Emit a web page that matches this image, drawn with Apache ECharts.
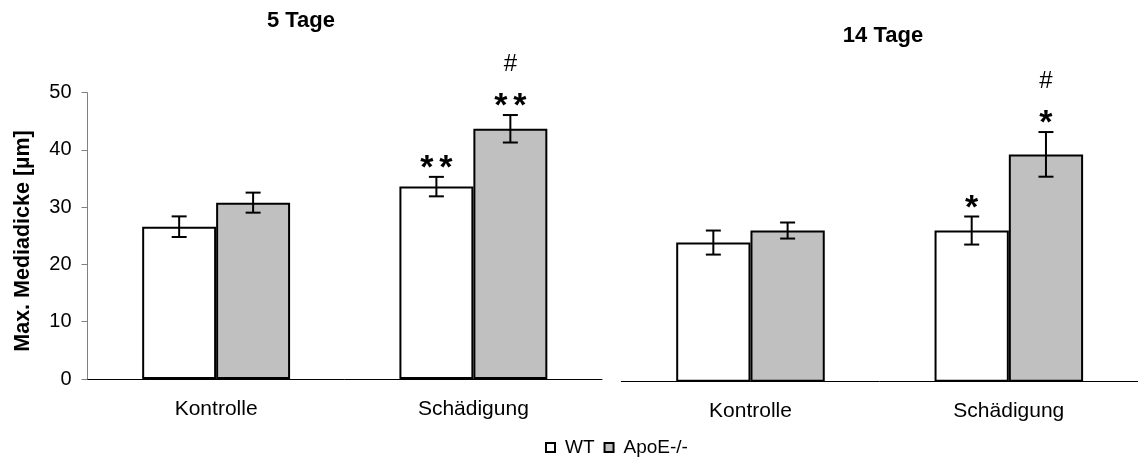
<!DOCTYPE html>
<html>
<head>
<meta charset="utf-8">
<title>Max. Mediadicke</title>
<script src="https://cdn.jsdelivr.net/npm/echarts@6/dist/echarts.min.js"></script>
<style>
  html, body { margin: 0; padding: 0; background: #fff; }
  #chart { width: 1138px; height: 459px; }
</style>
</head>
<body>
<div id="chart"></div>
<script>
// Groups on the x axis
const categories = ['Kontrolle', 'Schädigung'];
const yTicks = [0, 10, 20, 30, 40, 50];

// 5 Tage: means and error (±) per group
const wt5 = [26.6, 33.6];
const wt5Err = [1.8, 1.7];
const apo5 = [30.8, 43.7];
const apo5Err = [1.75, 2.4];

// 14 Tage
const wt14 = [24.3, 26.4];
const wt14Err = [2.1, 2.45];
const apo14 = [26.4, 39.7];
const apo14Err = [1.4, 3.9];

// Significance marks above the error bars
const wt5Marks = ['', '**'];
const apo5Marks = ['', '**'];
const apo5Hash = ['', '#'];
const wt14Marks = ['', '*'];
const apo14Marks = ['', '*'];
const apo14Hash = ['', '#'];

const FONT = '"Liberation Sans", Arial, sans-serif';
const GAP = 0.425;
const STAR_STEP = 19;

function errData(means, errs) {
  return means.map((m, i) => [i, m, errs[i]]);
}

function centeredText(x, y, text, font) {
  return {
    type: 'text', x: x, y: y,
    style: { text: text, font: font, fill: '#000',
             textAlign: 'center', textVerticalAlign: 'middle',
             align: 'center', verticalAlign: 'middle' }
  };
}

// Error bars with caps, plus the significance labels
function errorBars(side, marks, hashes) {
  return function (params, api) {
    const i = api.value(0);
    const mean = api.value(1);
    const err = api.value(2);
    const band = api.size([1, 0])[0];
    const bw = band * (1 - GAP) / 2;
    const x = api.coord([i, 0])[0] + side * bw / 2;
    const yTop = api.coord([i, mean + err])[1];
    const yBot = api.coord([i, mean - err])[1];
    const cap = 7.5;
    const ls = { stroke: '#000', lineWidth: 2 };
    const children = [
      { type: 'line', shape: { x1: x, y1: yTop, x2: x, y2: yBot }, style: ls },
      { type: 'line', shape: { x1: x - cap, y1: yTop, x2: x + cap, y2: yTop }, style: ls },
      { type: 'line', shape: { x1: x - cap, y1: yBot, x2: x + cap, y2: yBot }, style: ls }
    ];
    const m = marks[params.dataIndex] || '';
    const chars = m.split('');
    chars.forEach((c, k) => {
      const cx = x + (k - (chars.length - 1) / 2) * STAR_STEP;
      children.push(centeredText(cx, yTop - 8, c, 'bold 34px ' + FONT));
    });
    const h = hashes ? hashes[params.dataIndex] : '';
    if (h) {
      children.push(centeredText(x, yTop - 50.5, h, '24px ' + FONT));
    }
    return { type: 'group', children: children };
  };
}

function catAxis(gridIndex, margin) {
  return {
    type: 'category', gridIndex: gridIndex, data: categories,
    axisLine: { lineStyle: { color: '#000', width: 1 } },
    axisTick: { show: false },
    axisLabel: { margin: margin, fontSize: 21, fontFamily: FONT, color: '#000' }
  };
}

function valAxis(gridIndex, visible) {
  return {
    type: 'value', gridIndex: gridIndex, min: yTicks[0], max: yTicks[yTicks.length - 1],
    interval: yTicks[1] - yTicks[0],
    show: visible,
    splitLine: { show: false },
    axisLine: { show: true, lineStyle: { color: '#808080', width: 1 } },
    axisTick: { show: true, length: 6, lineStyle: { color: '#808080' } },
    axisLabel: { margin: 16, fontSize: 20, fontFamily: FONT, color: '#000' }
  };
}

function barSeries(name, data, axisIdx, color) {
  return {
    name: name, type: 'bar', xAxisIndex: axisIdx, yAxisIndex: axisIdx,
    data: data, barGap: '0%', barCategoryGap: (GAP * 100) + '%',
    itemStyle: { color: color, borderColor: '#000', borderWidth: 2 },
    emphasis: { disabled: true }, silent: true
  };
}

function errSeries(name, means, errs, axisIdx, side, marks, hashes) {
  return {
    name: name, type: 'custom', xAxisIndex: axisIdx, yAxisIndex: axisIdx,
    data: errData(means, errs), renderItem: errorBars(side, marks, hashes),
    encode: { x: 0, y: 1 }, z: 5, silent: true
  };
}

const chart = echarts.init(document.getElementById('chart'));
chart.setOption({
  animation: false,
  backgroundColor: '#fff',
  grid: [
    { left: 87.5, top: 92.7, width: 514.5, height: 286.3 },
    { left: 621.3, top: 95.4, width: 528.4, height: 286.3 }
  ],
  xAxis: [catAxis(0, 19.5), catAxis(1, 18.8)],
  yAxis: [valAxis(0, true), valAxis(1, false)],
  legend: {
    data: ['WT', 'ApoE-/-'],
    left: 545, top: 438, padding: 0,
    itemWidth: 9, itemHeight: 9, itemGap: 9,
    icon: 'rect',
    itemStyle: { borderWidth: 2, borderColor: '#000' },
    textStyle: { fontSize: 19, fontFamily: FONT, color: '#000', padding: [0, 0, 0, 5] },
    selectedMode: false
  },
  graphic: [
    centeredText(301, 20.5, '5 Tage', 'bold 22px ' + FONT),
    centeredText(883, 36.3, '14 Tage', 'bold 22px ' + FONT),
    Object.assign(centeredText(23, 241, 'Max. Mediadicke [µm]', 'bold 21.5px ' + FONT),
                  { rotation: Math.PI / 2 })
  ],
  series: [
    barSeries('WT', wt5, 0, '#ffffff'),
    barSeries('ApoE-/-', apo5, 0, '#c0c0c0'),
    barSeries('WT', wt14, 1, '#ffffff'),
    barSeries('ApoE-/-', apo14, 1, '#c0c0c0'),
    errSeries('WT SEM 5', wt5, wt5Err, 0, -1, wt5Marks, null),
    errSeries('ApoE SEM 5', apo5, apo5Err, 0, 1, apo5Marks, apo5Hash),
    errSeries('WT SEM 14', wt14, wt14Err, 1, -1, wt14Marks, null),
    errSeries('ApoE SEM 14', apo14, apo14Err, 1, 1, apo14Marks, apo14Hash)
  ]
});
</script>
</body>
</html>
